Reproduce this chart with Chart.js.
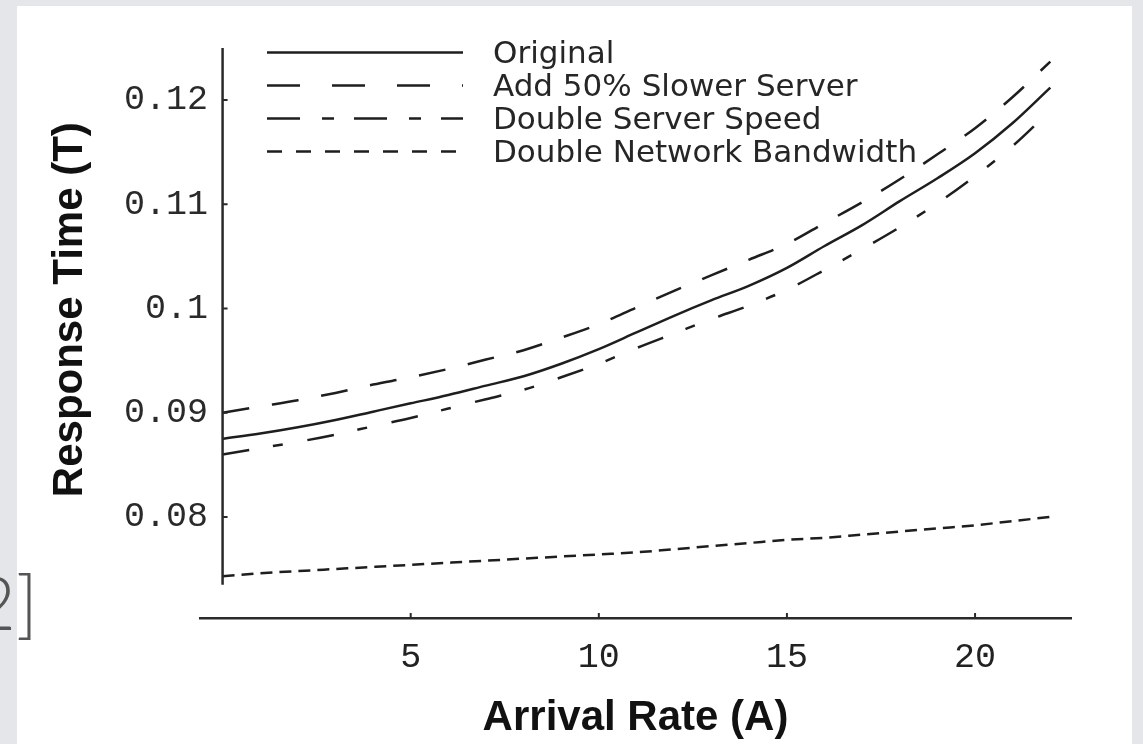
<!DOCTYPE html>
<html>
<head>
<meta charset="utf-8">
<script src="https://cdn.jsdelivr.net/npm/chart.js@4.4.1/dist/chart.umd.min.js"></script>
<style>
  html, body { margin: 0; padding: 0; }
  body { width: 1143px; height: 744px; background: #e4e6e9; position: relative; overflow: hidden; }
  #panel { position: absolute; left: 17px; top: 6px; width: 1115px; height: 738px; background: #fff; }
  #chart { position: absolute; left: 0; top: 0; }
  #outLabel { position: absolute; right: 1105px; top: 565px; font: 300 74px/74px Lato, "DejaVu Sans", sans-serif; color: #555; white-space: nowrap; }
  #legend { position: absolute; left: 267px; top: 36px; font: 31px/33px "DejaVu Sans", sans-serif; color: #262626; }
  #legend .row { display: flex; align-items: center; height: 33px; white-space: nowrap; }
  #legend svg { display: block; margin-right: 30px; }
</style>
</head>
<body>
<div id="panel"></div>
<div id="outLabel">2]</div>
<canvas id="chart" width="1143" height="744"></canvas>
<div id="legend"></div>
<script>
// values, one per unit of arrival rate
const arrivalRate = [0, 1, 2, 3, 4, 5, 6, 7, 8, 9, 10, 11, 12, 13, 14, 15, 16, 17, 18, 19, 20, 21, 22];
const original = [0.0875, 0.0880, 0.0886, 0.0893, 0.0901, 0.0909, 0.0917, 0.0926, 0.0935, 0.0947, 0.0961, 0.0977, 0.0993, 0.1008, 0.1022, 0.1039, 0.1060, 0.1080, 0.1103, 0.1125, 0.1149, 0.1178, 0.1212];
const slowerServer = [0.0900, 0.0906, 0.0912, 0.0919, 0.0927, 0.0934, 0.0942, 0.0951, 0.0960, 0.0972, 0.0985, 0.1001, 0.1017, 0.1032, 0.1047, 0.1062, 0.1082, 0.1102, 0.1124, 0.1148, 0.1173, 0.1203, 0.1237];
const doubleServer = [0.0860, 0.0866, 0.0872, 0.0879, 0.0887, 0.0895, 0.0904, 0.0913, 0.0922, 0.0934, 0.0947, 0.0962, 0.0976, 0.0990, 0.1003, 0.1018, 0.1037, 0.1057, 0.1078, 0.1101, 0.1127, 0.1156, 0.1190];
const doubleNetwork = [0.0743, 0.0746, 0.0748, 0.0750, 0.0752, 0.0754, 0.0756, 0.0758, 0.0760, 0.0762, 0.0764, 0.0766, 0.0769, 0.0772, 0.0775, 0.0778, 0.0780, 0.0783, 0.0786, 0.0789, 0.0792, 0.0796, 0.0800];
const seriesNames = ['Original', 'Add 50% Slower Server', 'Double Server Speed', 'Double Network Bandwidth'];
const xTicks = [5, 10, 15, 20];
const xTickLabels = ['5', '10', '15', '20'];
const yTicks = [0.08, 0.09, 0.1, 0.11, 0.12];
const yTickLabels = ['0.08', '0.09', '0.1', '0.11', '0.12'];

const ink = '#1e1e1e';
const plotDash = [[], [27, 23], [27, 24, 10, 25], [12, 7]];
const legendDash = [[], [33, 32], [33, 22, 12, 20], [15, 14]];
const yAxisStart = 0.0735;   // the vertical axis stops short of the horizontal one

const toPoints = (values) => values.map((v, i) => ({ x: arrivalRate[i], y: v }));

// Mathematica style axes: vertical axis at x = 0, small inward ticks
const axisMarks = {
    id: 'axisMarks',
    afterDatasetsDraw(chart) {
        const { ctx, chartArea, scales: { x, y } } = chart;
        const x0 = x.getPixelForValue(0);
        ctx.save();
        ctx.strokeStyle = '#2a2a2a';
        ctx.lineWidth = 2.5;
        ctx.beginPath();
        ctx.moveTo(x0, y.getPixelForValue(yAxisStart));
        ctx.lineTo(x0, chartArea.top);
        ctx.stroke();
        ctx.lineWidth = 2;
        ctx.beginPath();
        yTicks.forEach(v => {
            const py = y.getPixelForValue(v);
            ctx.moveTo(x0, py);
            ctx.lineTo(x0 + 5, py);
        });
        xTicks.forEach(v => {
            const px = x.getPixelForValue(v);
            ctx.moveTo(px, x.top);
            ctx.lineTo(px, x.top - 5);
        });
        ctx.stroke();
        ctx.restore();
    }
};

const chart = new Chart(document.getElementById('chart'), {
    type: 'line',
    data: {
        datasets: [original, slowerServer, doubleServer, doubleNetwork].map((values, i) => ({
            label: seriesNames[i],
            data: toPoints(values),
            borderColor: ink,
            borderWidth: 2.5,
            borderDash: plotDash[i],
            pointRadius: 0,
            fill: false,
            cubicInterpolationMode: 'monotone'
        }))
    },
    options: {
        responsive: false,
        animation: false,
        layout: { padding: { left: 0, top: 48, right: 72, bottom: 0 } },
        plugins: { legend: { display: false }, tooltip: { enabled: false } },
        scales: {
            x: {
                type: 'linear',
                min: -0.6,
                max: 22.55,
                grid: { display: false, drawTicks: false },
                border: { display: true, color: '#2a2a2a', width: 2.5 },
                afterBuildTicks: (scale) => { scale.ticks = xTicks.map(v => ({ value: v })); },
                afterFit: (scale) => { scale.height = 126; },
                ticks: {
                    autoSkip: false,
                    maxRotation: 0,
                    padding: 19,
                    color: '#222',
                    font: { family: 'Liberation Mono', size: 35 },
                    callback: (value, index) => xTickLabels[index]
                },
                title: {
                    display: true,
                    text: 'Arrival Rate (A)',
                    color: '#111',
                    font: { family: 'Liberation Sans', size: 42, weight: 'bold', lineHeight: 1.2 },
                    padding: { top: 0, bottom: 0 }
                }
            },
            y: {
                min: 0.0703,
                max: 0.125,
                grid: { display: false, drawTicks: false },
                border: { display: false },
                afterBuildTicks: (scale) => { scale.ticks = yTicks.map(v => ({ value: v })); },
                afterFit: (scale) => { scale.width = 200; },
                ticks: {
                    autoSkip: false,
                    // mirrored so the labels are not clipped; right edge lands 14px left of the axis
                    mirror: true,
                    crossAlign: 'far',
                    padding: -76,
                    color: '#2a2a2a',
                    font: { family: 'Liberation Mono', size: 35 },
                    callback: (value, index) => yTickLabels[index]
                },
                title: {
                    display: true,
                    text: '    Response Time (T)',
                    color: '#111',
                    font: { family: 'Liberation Sans', size: 42, weight: 'bold', lineHeight: 1.2 },
                    padding: { top: 45, bottom: 0 }
                }
            }
        }
    },
    plugins: [axisMarks]
});

// legend: long line samples followed by the series names
const legendBox = document.getElementById('legend');
chart.data.datasets.forEach((ds, i) => {
    const row = document.createElement('div');
    row.className = 'row';
    const dash = legendDash[i].length ? ` stroke-dasharray="${legendDash[i].join(' ')}"` : '';
    row.innerHTML = `<svg width="196" height="33"><line x1="0" y1="16.5" x2="196" y2="16.5" stroke="${ink}" stroke-width="2.5"${dash}/></svg>`;
    const label = document.createElement('span');
    label.textContent = ds.label;
    row.appendChild(label);
    legendBox.appendChild(row);
});
</script>
</body>
</html>
